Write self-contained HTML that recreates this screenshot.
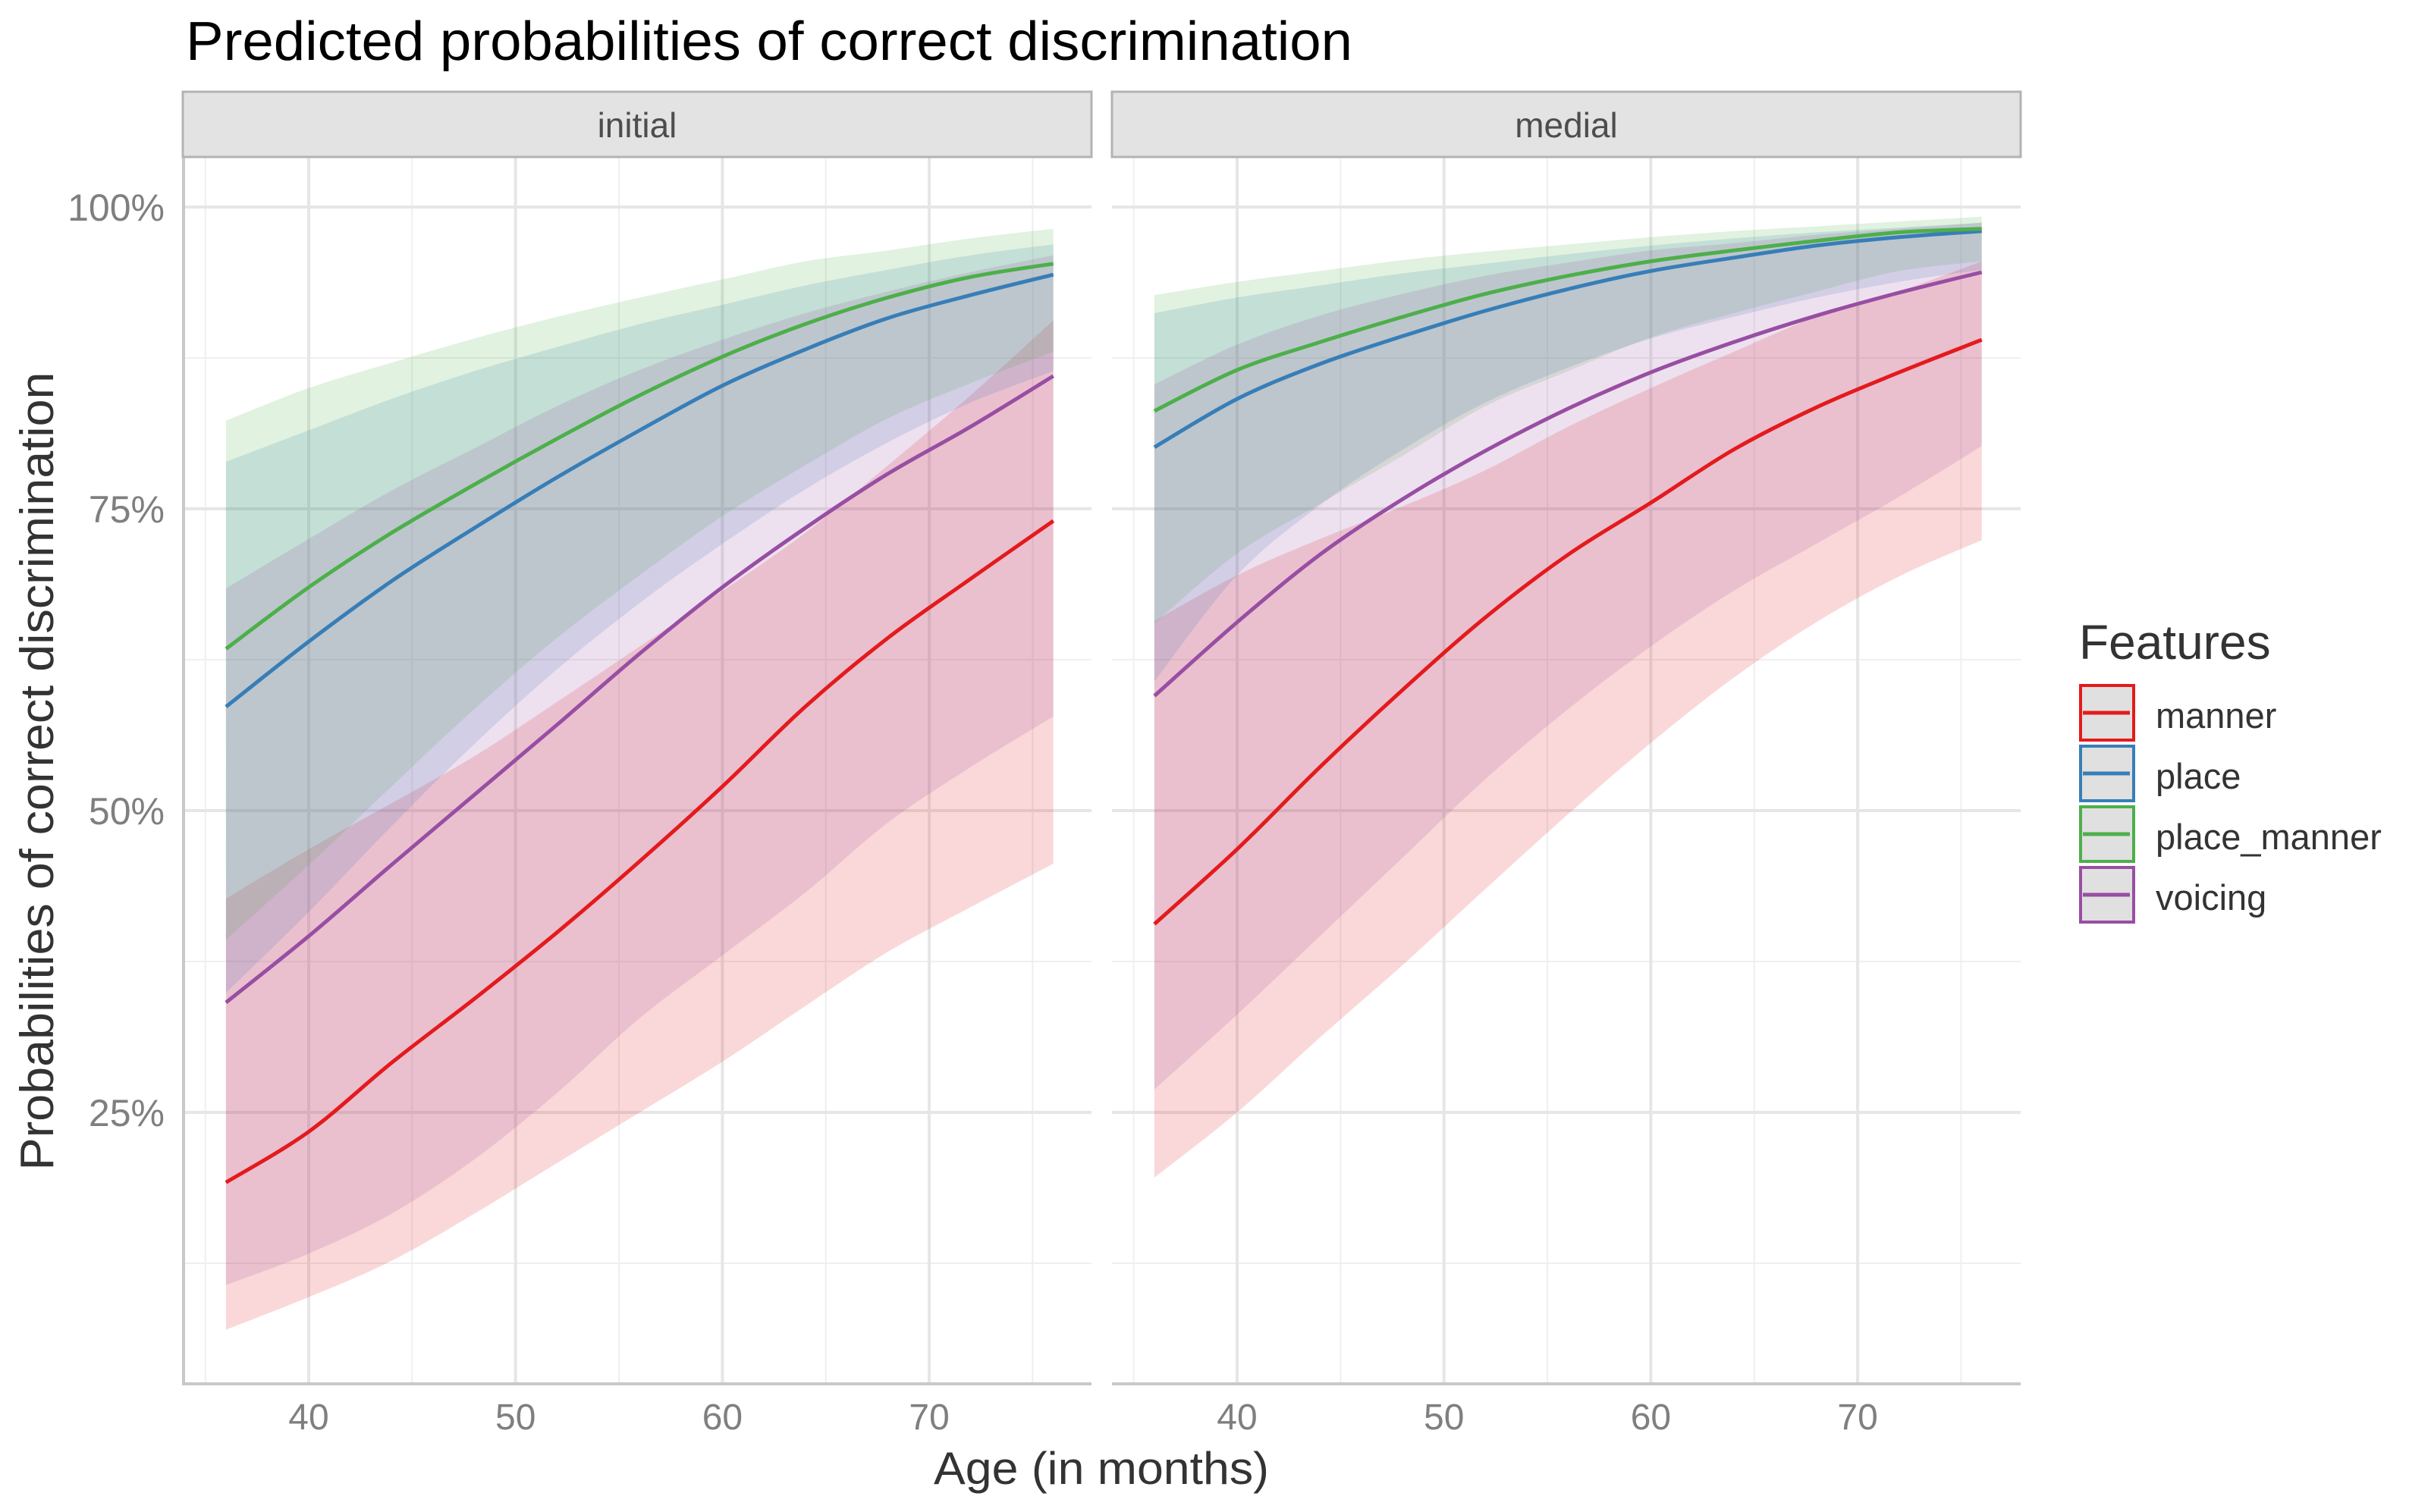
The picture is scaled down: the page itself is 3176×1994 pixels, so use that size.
<!DOCTYPE html>
<html><head><meta charset="utf-8"><style>
html,body{margin:0;padding:0;background:#fff;}
svg{display:block;font-family:"Liberation Sans",Arial,sans-serif;}
</style></head><body>
<svg id="chart" width="3176" height="1994" viewBox="0 0 3176 1994" xmlns="http://www.w3.org/2000/svg">
<rect width="3176" height="1994" fill="#ffffff"/>
<text x="245" y="79" font-size="72" fill="#000" textLength="1538" lengthAdjust="spacingAndGlyphs">Predicted probabilities of correct discrimination</text>
<g id="grid"></g>
<g id="ribbons"></g>
<g id="lines"></g>
<g id="axes"></g>
<text x="1452" y="1957" font-size="60" fill="#333" text-anchor="middle" textLength="442" lengthAdjust="spacingAndGlyphs">Age (in months)</text>
<text transform="translate(70,1017) rotate(-90)" font-size="62" fill="#333" text-anchor="middle" textLength="1053" lengthAdjust="spacingAndGlyphs">Probabilities of correct discrimination</text>
<g id="legend">
<text x="2741" y="869" font-size="64" fill="#333">Features</text>
</g>
</svg>
<script>
const ages = [36,40,44,48,52,56,60,64,68,72,76];
const panels = ["initial","medial"];
const features = ["manner","place","place_manner","voicing"];
const colors = ["#E41A1C","#377EB8","#4DAF4A","#984EA3"];
const yTicks = [25,50,75,100];
const yTickLabels = ["25%","50%","75%","100%"];
const yMinor = [12.5,37.5,62.5,87.5];
const xTicks = [40,50,60,70];
const xMinor = [35,45,55,65,75];

// initial panel
const initMannerMean = [19.2,23.4,29.1,34.4,39.9,45.8,52,58.6,64.3,69.2,74];
const initMannerLo   = [7,9.7,12.7,16.6,20.8,25,29.2,33.8,38.3,42,45.6];
const initMannerHi   = [42.7,46.8,50.6,54.5,59,63.6,68.2,73,78.6,84.4,90.6];
const initPlaceMean  = [58.6,64,69,73.4,77.6,81.5,85.2,88.2,90.8,92.7,94.4];
const initPlaceLo    = [34.9,41.6,48.7,55.5,61.7,67.2,72.1,76.6,80.5,83.8,86.4];
const initPlaceHi    = [78.9,81.5,84.1,86.4,88.4,90.3,91.9,93.5,94.8,96,96.9];
const initPMMean     = [63.4,68.5,73,77,80.8,84.4,87.6,90.3,92.5,94.2,95.3];
const initPMLo       = [39.3,45.5,52,58.4,64.3,69.5,74.4,78.6,82.5,85.4,88];
const initPMHi       = [82.3,85,87.1,89.1,90.9,92.5,94,95.5,96.4,97.4,98.2];
const initVoiMean    = [34.1,39.6,45.5,51.3,57.1,63,68.5,73.4,77.9,81.8,86];
const initVoiLo      = [10.7,13.3,16.6,21.1,26.6,32.8,38,43.2,49,53.6,57.8];
const initVoiHi      = [68.4,72.5,76.5,80,83.5,86.5,89,91.2,93,94.6,96];
// medial panel
const medMannerMean = [40.6,46.8,53.6,60,66,71.2,75.5,79.9,83.4,86.3,89];
const medMannerLo   = [19.6,25,31.2,37.2,43.5,49.7,55.6,61,65.6,69.4,72.4];
const medMannerHi   = [65.7,69.5,72.5,75.2,78.2,81.8,85,88,90.9,93,95.5];
const medPlaceMean  = [80.1,84.1,87,89.3,91.4,93.2,94.7,95.8,96.8,97.5,98];
const medPlaceLo    = [60.7,69.5,75.3,79.9,83.8,86.7,89.1,90.9,92.5,93.8,94.8];
const medPlaceHi    = [91.2,92.5,93.5,94.5,95.3,96.1,96.8,97.4,97.9,98.3,98.7];
const medPMMean     = [83.1,86.5,88.8,90.9,92.8,94.3,95.5,96.4,97.2,97.9,98.2];
const medPMLo       = [65.5,71.3,75.4,79.4,83.5,86.4,89.2,91.2,93,94.7,95.5];
const medPMHi       = [92.7,93.8,94.7,95.6,96.3,96.9,97.5,98,98.4,98.8,99.2];
const medVoiMean    = [59.5,65.6,71.2,75.8,79.8,83.3,86.3,88.8,91,92.9,94.6];
const medVoiLo      = [26.9,33.1,39.6,46.1,52.6,58.4,63.6,68.2,72.1,76,80.2];
const medVoiHi      = [85.3,88.6,91,92.8,94.3,95.4,96.4,97,97.7,98.2,98.7];

const series = [
 [[initMannerMean,initMannerLo,initMannerHi],[initPlaceMean,initPlaceLo,initPlaceHi],[initPMMean,initPMLo,initPMHi],[initVoiMean,initVoiLo,initVoiHi]],
 [[medMannerMean,medMannerLo,medMannerHi],[medPlaceMean,medPlaceLo,medPlaceHi],[medPMMean,medPMLo,medPMHi],[medVoiMean,medVoiLo,medVoiHi]]
];

const NS="http://www.w3.org/2000/svg";
const panelLeft=[241,1466], panelW=1198, panelTop=208, panelBottom=1825;
function xScale(a,p){return 407+(a-40)*27.27+p*1224;}
function yScale(v){return 1865-v*15.92;}
function mk(tag,attrs,parent){const e=document.createElementNS(NS,tag);for(const k in attrs)e.setAttribute(k,attrs[k]);parent.appendChild(e);return e;}
function crPath(pts,move){
  let d=move?`M${pts[0][0]},${pts[0][1]}`:`L${pts[0][0]},${pts[0][1]}`;
  for(let i=0;i<pts.length-1;i++){
    const p0=pts[i-1]||pts[i],p1=pts[i],p2=pts[i+1],p3=pts[i+2]||pts[i+1];
    const c1=[p1[0]+(p2[0]-p0[0])/6,p1[1]+(p2[1]-p0[1])/6];
    const c2=[p2[0]-(p3[0]-p1[0])/6,p2[1]-(p3[1]-p1[1])/6];
    d+=` C${c1[0].toFixed(1)},${c1[1].toFixed(1)} ${c2[0].toFixed(1)},${c2[1].toFixed(1)} ${p2[0].toFixed(1)},${p2[1].toFixed(1)}`;
  }
  return d;
}
const grid=document.getElementById('grid'),rib=document.getElementById('ribbons'),lin=document.getElementById('lines'),axes=document.getElementById('axes'),leg=document.getElementById('legend');
const svg=document.getElementById('chart');
panels.forEach((pn,p)=>{
  const L=panelLeft[p],R=L+panelW;
  const strip=mk('rect',{x:L,y:121,width:panelW,height:86,fill:'#e3e3e3',stroke:'#b3b3b3','stroke-width':3},svg);
  
  
  const st=mk('text',{x:L+panelW/2,y:181,'font-size':46,fill:'#4d4d4d','text-anchor':'middle'},svg);
  st.textContent=pn;
  
  
  yMinor.forEach(v=>{const l=mk('line',{x1:L,x2:R,y1:yScale(v),y2:yScale(v),stroke:'#efefef','stroke-width':2},grid);
    
    });
  xMinor.forEach(v=>{const l=mk('line',{x1:xScale(v,p),x2:xScale(v,p),y1:panelTop,y2:panelBottom,stroke:'#efefef','stroke-width':2},grid);
    
    });
  yTicks.forEach(v=>{const l=mk('line',{x1:L,x2:R,y1:yScale(v),y2:yScale(v),stroke:'#e6e6e6','stroke-width':4},grid);
    
    });
  xTicks.forEach((v,i)=>{const l=mk('line',{x1:xScale(v,p),x2:xScale(v,p),y1:panelTop,y2:panelBottom,stroke:'#e6e6e6','stroke-width':4},grid);
    
    
    const t=mk('text',{x:xScale(v,p),y:1885,'font-size':48,fill:'#7f7f7f','text-anchor':'middle'},axes);
    t.textContent=String(v);
    
    });
  const bl=mk('line',{x1:L,x2:R,y1:panelBottom,y2:panelBottom,stroke:'#c8c8c8','stroke-width':4},axes);
  
  
  series[p].forEach((s,f)=>{
    const [mean,lo,hi]=s;
    const top=ages.map((a,i)=>[xScale(a,p),yScale(hi[i])]);
    const bot=ages.map((a,i)=>[xScale(a,p),yScale(lo[i])]).reverse();
    const r=mk('path',{d:crPath(top,true)+' '+crPath(bot,false)+' Z',fill:colors[f],'fill-opacity':0.17},rib);
    
    
    const ln=mk('path',{d:crPath(ages.map((a,i)=>[xScale(a,p),yScale(mean[i])]),true),fill:'none',stroke:colors[f],'stroke-width':5},lin);
    
    
  });
});
const yl=mk('line',{x1:242,x2:242,y1:panelTop,y2:panelBottom+2,stroke:'#c8c8c8','stroke-width':4},axes);


yTicks.forEach((v,i)=>{const t=mk('text',{x:217,y:yScale(v)+18,'font-size':50,fill:'#7f7f7f','text-anchor':'end'},axes);
  t.textContent=yTickLabels[i];
  
  });
features.forEach((f,i)=>{
  const y0=902+i*80;
  const k=mk('rect',{x:2743,y:y0+2,width:70,height:72,fill:'#e0e0e0',stroke:colors[i],'stroke-width':4},leg);
  
  
  const l=mk('line',{x1:2746,x2:2808,y1:y0+38,y2:y0+38,stroke:colors[i],'stroke-width':5},leg);
  
  
  const t=mk('text',{x:2842,y:y0+58,'font-size':47,fill:'#333'},leg);
  t.textContent=f;
  
  
});
</script>
</body></html>
